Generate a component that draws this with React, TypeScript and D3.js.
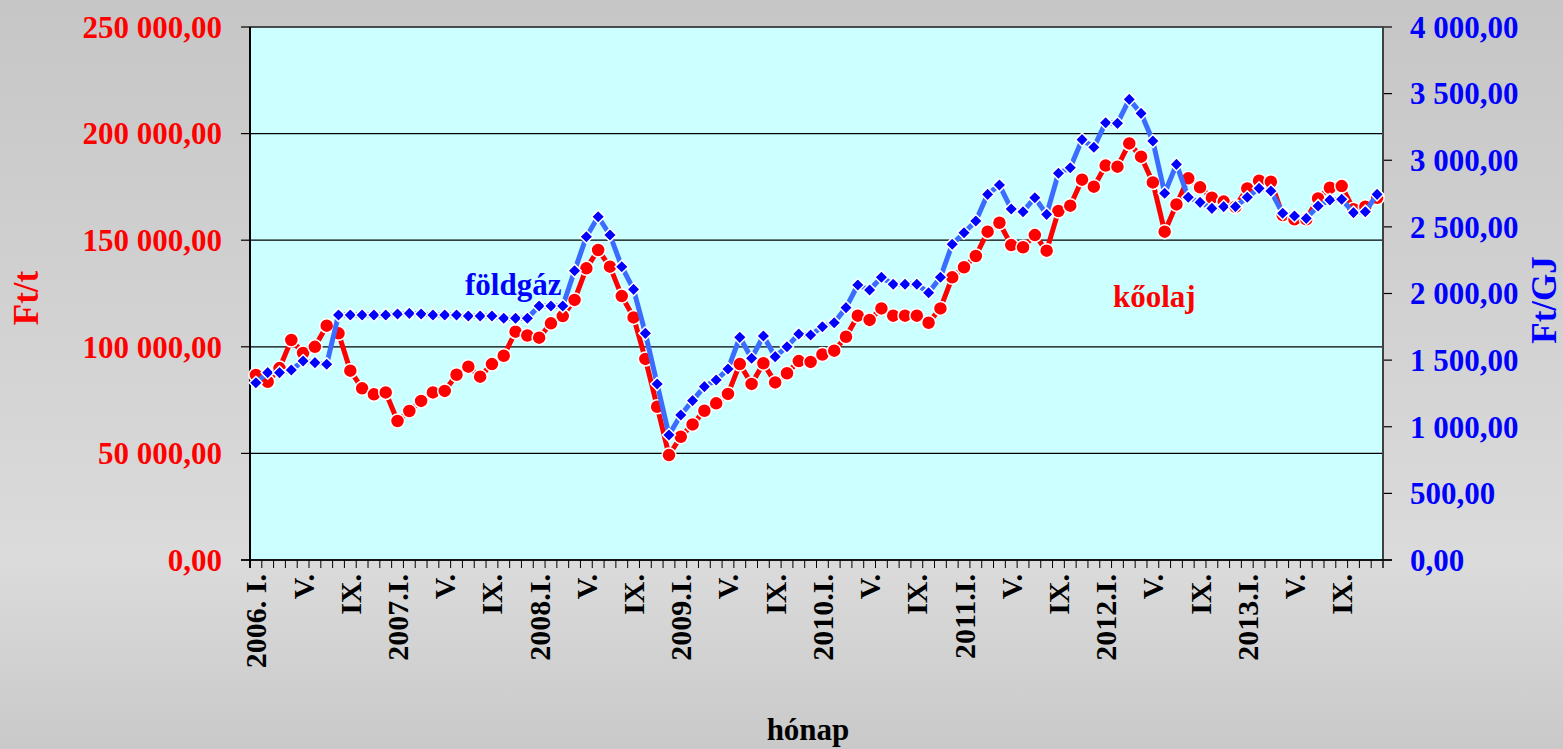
import React from 'react';
import * as d3 from 'd3';

// monthly prices, 2006 I. – 2013 XII.
const oil = [
  86800, 83600, 90000, 103200, 97100, 100000, 109900, 106300, 88800, 80500, 77700, 78600,
  65200, 69900, 74600, 78600, 79300, 86900, 90700, 86000, 91900, 95800, 107100, 105300,
  104300, 111000, 114400, 122000, 136800, 145400, 137600, 123800, 113800, 94300, 71900, 49200,
  57800, 63600, 70000, 73500, 77900, 91900, 82600, 92300, 83300, 87600, 93300, 92900,
  96400, 98200, 104700, 114600, 112600, 118000, 114600, 114600, 114600, 111300, 118000, 132600,
  137300, 142600, 154000, 158200, 147700, 146700, 152400, 145100, 163700, 166200, 178400, 175100,
  185000, 184500, 195400, 189200, 177100, 154000, 166800, 179000, 174800, 169900, 168100, 165700,
  174300, 177900, 177400, 161800, 159800, 159800, 169600, 174600, 175400, 164500, 165700, 169900,
];

const gas = [
  1330, 1406, 1406, 1426, 1493, 1481, 1469, 1839, 1839, 1839, 1839, 1839,
  1846, 1851, 1846, 1839, 1839, 1839, 1831, 1831, 1831, 1814, 1814, 1814,
  1906, 1906, 1906, 2171, 2426, 2576, 2439, 2201, 2031, 1701, 1321, 938,
  1088, 1196, 1301, 1351, 1433, 1671, 1514, 1681, 1526, 1601, 1696, 1689,
  1751, 1781, 1894, 2064, 2026, 2122, 2069, 2069, 2069, 2006, 2122, 2369,
  2456, 2544, 2744, 2814, 2634, 2614, 2719, 2594, 2902, 2944, 3155, 3097,
  3282, 3277, 3457, 3352, 3144, 2752, 2969, 2722, 2684, 2639, 2652, 2652,
  2722, 2789, 2769, 2602, 2582, 2564, 2657, 2702, 2707, 2607, 2614, 2744,
];

const years = ['2006. I.', '2007.I.', '2008.I.', '2009.I.', '2010.I.', '2011.I.', '2012.I.', '2013.I.'];
const quarterLabels = ['V.', 'IX.'];

const leftTicks = [0, 50000, 100000, 150000, 200000, 250000];
const rightTicks = [0, 500, 1000, 1500, 2000, 2500, 3000, 3500, 4000];

const months = d3.range(oil.length);
const monthLabel = (i: number) => {
  if (i % 4 !== 0) return '';
  const k = (i % 12) / 4;
  return k === 0 ? years[Math.floor(i / 12)] : quarterLabels[k - 1];
};

const huFormat = d3.formatLocale({
  decimal: ',',
  thousands: ' ',
  grouping: [3],
  currency: ['', ''],
}).format(',.2f');

const W = 1563;
const H = 749;
const left = 250;
const right = 1383;
const top = 27;
const bottom = 560;
const font = '"Liberation Serif", "Times New Roman", serif';

export default function App() {
  const x = d3.scaleBand<number>().domain(months).range([left, right]);
  const cx = (i: number) => (x(i) as number) + x.bandwidth() / 2;
  const yL = d3.scaleLinear().domain([0, 250000]).range([bottom, top]);
  const yR = d3.scaleLinear().domain([0, 4000]).range([bottom, top]);

  const oilLine = d3.line<number>().x((_, i) => cx(i)).y((d) => yL(d));
  const gasLine = d3.line<number>().x((_, i) => cx(i)).y((d) => yR(d));
  const diamond = d3.symbol().type(d3.symbolDiamond2).size(110)();

  return (
    <svg width={W} height={H} style={{ position: 'absolute', left: 0, top: 0 }} fontFamily={font} fontWeight="bold">
      <defs>
        <linearGradient id="bg" x1="0" y1="0" x2="0" y2="1">
          <stop offset="0" stopColor="#c6c6c6" />
          <stop offset="0.75" stopColor="#dbdbdb" />
          <stop offset="1" stopColor="#c9c9c9" />
        </linearGradient>
      </defs>
      <rect width={W} height={H} fill="url(#bg)" />
      <rect x={left} y={top} width={right - left} height={bottom - top} fill="#ccffff" stroke="#808080" strokeWidth={1.5} />

      {leftTicks.map((t) => (
        <g key={t}>
          <line x1={left} x2={right} y1={yL(t)} y2={yL(t)} stroke="#000" strokeWidth={1.2} />
          <line x1={left - 9} x2={left} y1={yL(t)} y2={yL(t)} stroke="#000" strokeWidth={1.2} />
          <text x={222} y={yL(t)} dy="0.35em" textAnchor="end" fontSize={31} fill="#ff0000">{huFormat(t)}</text>
        </g>
      ))}
      {rightTicks.map((t) => (
        <g key={t}>
          <line x1={right} x2={right + 9} y1={yR(t)} y2={yR(t)} stroke="#000" strokeWidth={1.2} />
          <text x={1410} y={yR(t)} dy="0.35em" fontSize={31} fill="#0000ff">{huFormat(t)}</text>
        </g>
      ))}

      {d3.range(oil.length + 1).map((i) => {
        const xx = left + i * x.step();
        return <line key={i} x1={xx} x2={xx} y1={bottom} y2={bottom + 8} stroke="#000" strokeWidth={1} />;
      })}
      <line x1={left} x2={left} y1={top} y2={bottom + 8} stroke="#000" strokeWidth={2} />
      <line x1={right} x2={right} y1={top} y2={bottom + 8} stroke="#404040" strokeWidth={2} />
      <line x1={left - 9} x2={right + 9} y1={bottom} y2={bottom} stroke="#000" strokeWidth={1.5} />

      {months.map((i) => {
        const lab = monthLabel(i);
        if (!lab) return null;
        return (
          <text key={i} transform={`translate(${cx(i)},574) rotate(-90)`} dy="0.35em" textAnchor="end" fontSize={30} fill="#000">
            {lab}
          </text>
        );
      })}

      <path d={oilLine(oil) as string} fill="none" stroke="#ff0000" strokeWidth={5} strokeLinejoin="round" />
      {oil.map((d, i) => (
        <circle key={i} cx={cx(i)} cy={yL(d)} r={7} fill="#ff0000" stroke="#fff" strokeWidth={1.5} />
      ))}
      <path d={gasLine(gas) as string} fill="none" stroke="#3a6cff" strokeWidth={5} strokeLinejoin="round" />
      {gas.map((d, i) => (
        <path key={i} d={diamond as string} transform={`translate(${cx(i)},${yR(d)})`} fill="#0000ff" stroke="#fff" strokeWidth={1.5} />
      ))}

      <text x={465} y={295} fontSize={31} fill="#0000ff">földgáz</text>
      <text x={1113} y={307} fontSize={31} fill="#ff0000">kőolaj</text>

      <text transform="translate(38,298) rotate(-90)" textAnchor="middle" fontSize={35} fill="#ff0000">Ft/t</text>
      <text transform="translate(1556,300) rotate(-90)" textAnchor="middle" fontSize={35} fill="#0000ff">Ft/GJ</text>
      <text x={808} y={740} textAnchor="middle" fontSize={31} fill="#000">hónap</text>
    </svg>
  );
}
